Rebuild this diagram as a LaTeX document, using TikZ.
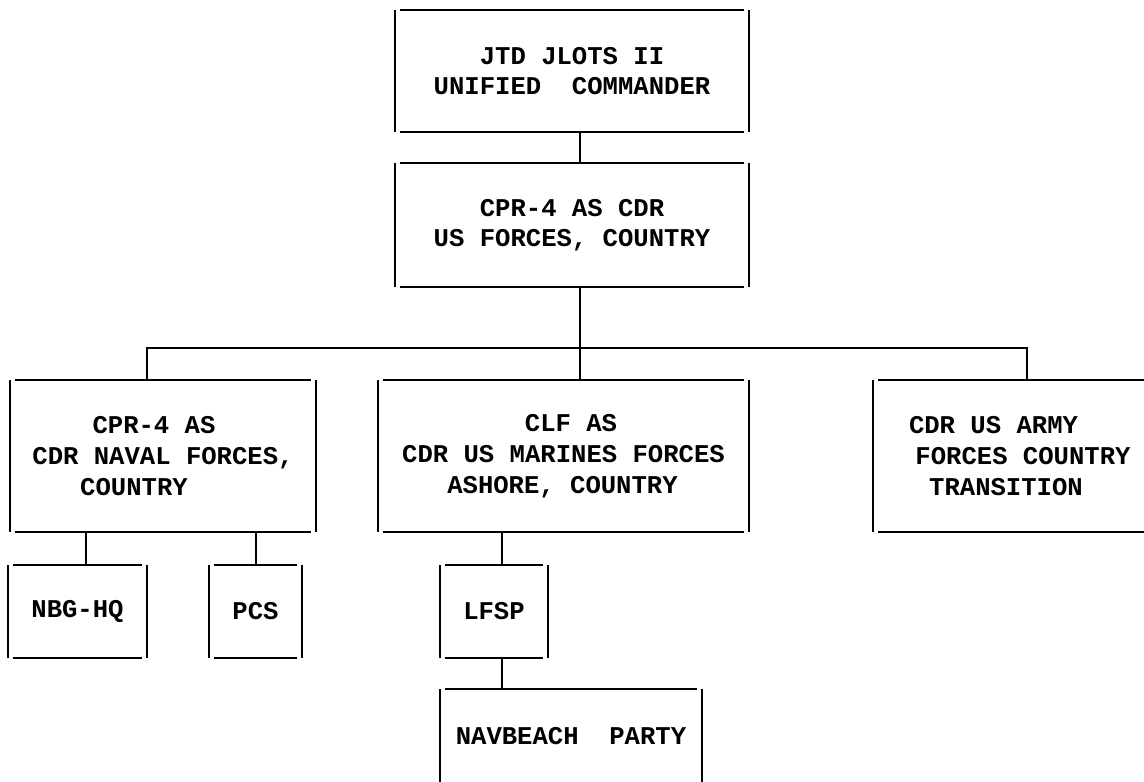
\documentclass[tikz,border=0pt]{standalone}
\usepackage{fontspec}
\setmonofont{Liberation Mono}
\begin{document}
\begin{tikzpicture}[x=1pt,y=-1pt]
\tikzset{
  box/.style={inner sep=0pt, align=center,
    font=\ttfamily\bfseries\fontsize{25.6}{30}\selectfont},
  box3/.style={box, font=\ttfamily\bfseries\fontsize{25.6}{31}\selectfont},
  hline/.style={line width=2.4pt},
  vline/.style={line width=1.7pt},
  link/.style={line width=1.7pt}
}
\useasboundingbox (0,0) rectangle (1144,782);
\clip (0,0) rectangle (1144,782);
% top levels
\node[box, minimum width=354pt, minimum height=122pt] (jtd) at (572,71) {JTD JLOTS II\\UNIFIED~~COMMANDER};
\node[box, minimum width=354pt, minimum height=124pt] (cpr) at (572,225) {CPR-4 AS CDR\\US FORCES, COUNTRY};
% third level
\node[box3, minimum width=306pt, minimum height=152pt] (nav) at (163,456)
  {CPR-4 AS\hspace*{18pt}\\CDR NAVAL FORCES,\hspace*{3pt}\\COUNTRY\hspace*{58pt}};
\node[box3, minimum width=371pt, minimum height=152pt] (clf) at (563.5,456)
  {\hspace*{15pt}CLF AS\\CDR US MARINES FORCES\\ASHORE, COUNTRY\hspace*{2pt}};
\node[box3, minimum width=300pt, minimum height=152pt] (army) at (1023,456)
  {CDR US ARMY\hspace*{59pt}\\FORCES COUNTRY\hspace*{40pt}\\TRANSITION\hspace*{34pt}};
% fourth level
\node[box, minimum width=139pt, minimum height=93pt] (nbg) at (77.5,611.5) {NBG-HQ};
\node[box, minimum width=93pt, minimum height=93pt] (pcs) at (255.5,611.5) {PCS};
\node[box, minimum width=108pt, minimum height=93pt] (lfsp) at (494,611.5) {LFSP};
\node[box, minimum width=262pt, minimum height=94pt] (navb) at (571,736) {NAVBEACH~~PARTY};
% typewritten box borders, with small gaps at the corners
\foreach \n in {jtd,cpr,nav,clf,army,nbg,pcs,lfsp,navb}{
  \draw[hline] ([xshift=5pt]\n.north west) -- ([xshift=-5pt]\n.north east);
  \draw[hline] ([xshift=5pt]\n.south west) -- ([xshift=-5pt]\n.south east);
  \draw[vline] (\n.north west) -- (\n.south west);
  \draw[vline] (\n.north east) -- (\n.south east);
}
% connector x positions
\coordinate (cx) at (580,348);
\coordinate (lx) at (147,348);
\coordinate (rx) at (1027,348);
\coordinate (nx) at (86,0);
\coordinate (px) at (256,0);
\coordinate (mx) at (502,0);
% connectors
\draw[link] (jtd.south -| cx) -- (cpr.north -| cx);
\draw[link] (cpr.south -| cx) -- (clf.north -| cx);
\draw[link] (nav.north -| lx) -- (lx);
\draw[hline] ([xshift=-1pt]lx) -- ([xshift=1pt]rx);
\draw[link] (rx) -- (army.north -| rx);
\draw[link] (nav.south -| nx) -- (nbg.north -| nx);
\draw[link] (nav.south -| px) -- (pcs.north -| px);
\draw[link] (clf.south -| mx) -- (lfsp.north -| mx);
\draw[link] (lfsp.south -| mx) -- (navb.north -| mx);
\end{tikzpicture}
\end{document}
